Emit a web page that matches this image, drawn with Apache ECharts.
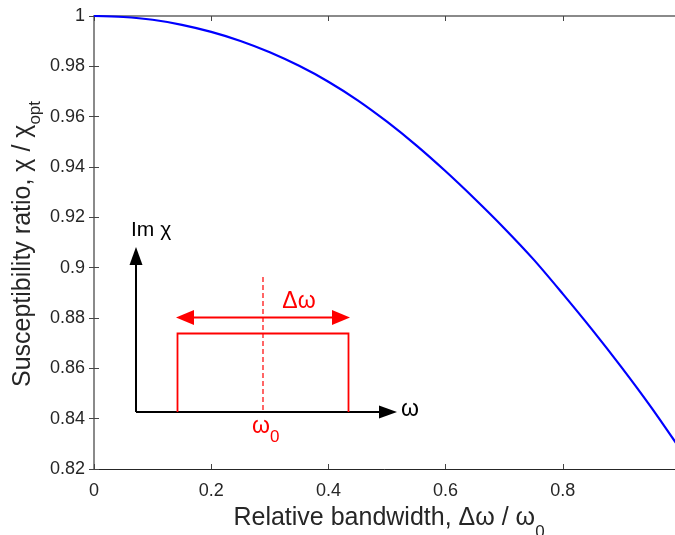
<!DOCTYPE html>
<html>
<head>
<meta charset="utf-8">
<script src="https://cdn.jsdelivr.net/npm/echarts@6/dist/echarts.min.js"></script>
<style>
html,body{margin:0;padding:0;background:#fff;}
#chart{width:675px;height:535px;}
</style>
</head>
<body>
<div id="chart"></div>
<script>
// ---- data ----
const bandwidth = [0, 0.05, 0.10, 0.15, 0.20, 0.25, 0.30, 0.35, 0.40, 0.45, 0.50,
                   0.55, 0.60, 0.65, 0.70, 0.75, 0.80, 0.85, 0.90, 0.95, 1.00];
const ratio = [1.0000, 0.9996, 0.9985, 0.9965, 0.9937, 0.9901, 0.9856, 0.9802, 0.9739, 0.9665, 0.9580,
               0.9486, 0.9383, 0.9273, 0.9157, 0.9033, 0.8896, 0.8754, 0.8605, 0.8448, 0.8280];
const xTickLabels = ['0', '0.2', '0.4', '0.6', '0.8'];
const yTickLabels = ['0.82', '0.84', '0.86', '0.88', '0.9', '0.92', '0.94', '0.96', '0.98', '1'];
const xTitle = 'Relative bandwidth, \u0394\u03c9 / \u03c9';
const xTitleSub = '0';
const yTitle = 'Susceptibility ratio, \u03c7 / \u03c7';
const yTitleSub = 'opt';

const FONT = '"Liberation Sans", Arial, Helvetica, sans-serif';
const TXT = '#262626';

const chart = echarts.init(document.getElementById('chart'), null, {renderer: 'canvas'});

const mctx = document.createElement('canvas').getContext('2d');
function tw(t, size) { mctx.font = size + 'px ' + FONT; return mctx.measureText(t).width; }

// text helper: baseline position -> middle
function txt(x, baseline, str, size, color, align) {
  return {type: 'text', x: x, y: baseline - 0.35 * size, silent: true,
    style: {text: str, font: size + 'px ' + FONT, fill: color, align: align || 'left', verticalAlign: 'middle'}};
}

const T = 25, TS = 17;
// x title
const xw1 = tw(xTitle, T), xw2 = tw(xTitleSub, TS);
const xStart = 389 - (xw1 + xw2) / 2;
const xBase = 527;
// y title (rotated)
const yw1 = tw(yTitle, T), yw2 = tw(yTitleSub, TS);
const yCenter = 244;
const yBase = 32;

const RED = '#ff0000';
const graphics = [
  txt(xStart, xBase, xTitle, T, TXT),
  txt(xStart + xw1, xBase + 11, xTitleSub, TS, TXT),
  {type: 'group', x: yBase, y: yCenter + (yw1 + yw2) / 2, rotation: Math.PI / 2, silent: true,
   children: [
     txt(0, 0, yTitle, T, TXT),
     txt(yw1, 9, yTitleSub, TS, TXT)
   ]},
  // inset: axes
  {type: 'line', silent: true, shape: {x1: 136, y1: 412, x2: 136, y2: 262}, style: {stroke: '#000', lineWidth: 2}},
  {type: 'polygon', silent: true, shape: {points: [[136, 247], [129.5, 265], [142.5, 265]]}, style: {fill: '#000'}},
  {type: 'line', silent: true, shape: {x1: 136, y1: 412, x2: 382, y2: 412}, style: {stroke: '#000', lineWidth: 2}},
  {type: 'polygon', silent: true, shape: {points: [[397, 412], [379, 405.5], [379, 418.5]]}, style: {fill: '#000'}},
  // inset: red box
  {type: 'polyline', silent: true, shape: {points: [[177.5, 412], [177.5, 333.5], [348.5, 333.5], [348.5, 412]]},
   style: {stroke: RED, lineWidth: 1.8, fill: null}},
  {type: 'line', silent: true, shape: {x1: 263, y1: 277, x2: 263, y2: 412}, style: {stroke: RED, lineWidth: 1.2, lineDash: [5, 3]}},
  {type: 'line', silent: true, shape: {x1: 192, y1: 317.5, x2: 334, y2: 317.5}, style: {stroke: RED, lineWidth: 1.8}},
  {type: 'polygon', silent: true, shape: {points: [[176, 317.5], [194, 310], [194, 325]]}, style: {fill: RED}},
  {type: 'polygon', silent: true, shape: {points: [[350, 317.5], [332, 310], [332, 325]]}, style: {fill: RED}},
  // inset labels
  txt(131, 238, 'Im \u03c7', 21, '#000'),
  txt(401, 418, '\u03c9', 23, '#000'),
  txt(299, 310, '\u0394\u03c9', 23, RED, 'center'),
  txt(252, 435, '\u03c9', 23, RED),
  txt(252 + tw('\u03c9', 23), 443, '0', 17, RED)
];

function baseAxis(extra) {
  return Object.assign({
    type: 'value',
    splitLine: {show: false},
    axisTick: {show: true, inside: true, length: 5, lineStyle: {color: '#444', width: 1}},
    axisLabel: {show: false}
  }, extra);
}

const option = {
  animation: false,
  backgroundColor: '#fff',
  grid: {left: 94, top: 16, right: -5, bottom: 66, containLabel: false, outerBoundsMode: 'none'},
  xAxis: [
    baseAxis({position: 'bottom', min: 0, max: 1, interval: 0.2,
      axisLine: {show: true, lineStyle: {color: '#262626', width: 1}},
      axisLabel: {show: true, showMaxLabel: false, margin: 13, color: TXT, fontSize: 18, fontFamily: FONT,
        formatter: v => xTickLabels[Math.round(v / 0.2)] || ''}}),
    baseAxis({position: 'top', min: 0, max: 1, interval: 0.2,
      axisLine: {show: true, lineStyle: {color: '#8a8a8a', width: 2}}})
  ],
  yAxis: [
    baseAxis({position: 'left', min: 0.82, max: 1, interval: 0.02,
      axisLine: {show: true, lineStyle: {color: '#8a8a8a', width: 2}},
      axisLabel: {show: true, margin: 9, color: TXT, fontSize: 18, fontFamily: FONT,
        formatter: v => yTickLabels[Math.round((v - 0.82) / 0.02)] || ''}}),
    baseAxis({position: 'right', min: 0.82, max: 1, interval: 0.02,
      axisLine: {show: true, lineStyle: {color: '#8a8a8a', width: 1}}})
  ],
  series: [{
    type: 'line',
    data: bandwidth.map((b, i) => [b, ratio[i]]),
    smooth: 0.3,
    showSymbol: false,
    lineStyle: {color: '#0000ff', width: 2.2},
    clip: true
  }],
  graphic: graphics
};
chart.setOption(option);
</script>
</body>
</html>
